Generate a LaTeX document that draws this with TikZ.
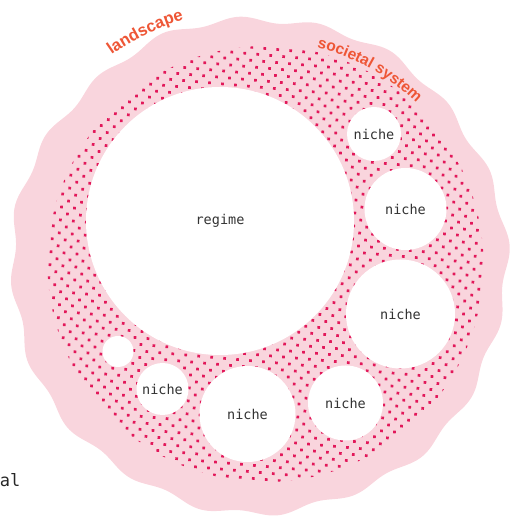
\documentclass[tikz,border=0pt]{standalone}
\usepackage{fontspec}
\setsansfont{Liberation Sans}
\setmonofont{DejaVu Sans Mono}
\usetikzlibrary{decorations.text}
\definecolor{landpink}{HTML}{F9D5DD}
\definecolor{dotred}{HTML}{E2185A}
\definecolor{labelred}{HTML}{EE5636}
\definecolor{nichetext}{HTML}{333333}

\begin{document}
\begin{tikzpicture}[x=1pt,y=1pt,
  hole/.style={circle, fill=white, inner sep=0pt, minimum size=#1, font=\ttfamily\fontsize{13.5}{16}\selectfont, text=nichetext}]
\useasboundingbox (0,0) rectangle (513,519);
% landscape blob
\fill[landpink] plot[domain=0:360, samples=721] ({259+(247+3*sin(20*\x)+1.5*sin(7*\x+40))*cos(\x)}, {253.5+(247+3*sin(20*\x)+1.5*sin(7*\x+40))*sin(\x)}) -- cycle;

% dotted societal system
\begin{scope}
\clip (265.5,255) circle (218);
\foreach \i in {-24,...,24}
  \foreach \j in {-24,...,24}
    \fill[dotred, shift={(265.5,255)}, rotate=40] (\i*9.2,\j*9.2) circle (1.9);
\end{scope}

\node[hole=268pt] (regime) at (220,298) {regime};
\node[hole=54pt] (niche1) at (374,385) {niche};
\node[hole=82pt] (niche2) at (405.5,310) {niche};
\node[hole=109pt] (niche3) at (400.5,205) {niche};
\node[hole=75pt] (niche4) at (345.5,116) {niche};
\node[hole=96pt] (niche5) at (247.5,105) {niche};
\node[hole=52pt] (niche6) at (162.5,130) {niche};
\node[hole=31pt] (spare) at (118,167.5) {};

\path[decorate, decoration={text along path, text align=center, text color=labelred,
  text={|\sffamily\bfseries\fontsize{16.5}{19}\selectfont|landscape}}]
  (259,253.5) ++(128:257) arc[start angle=128, end angle=104, radius=257];
\path[decorate, decoration={text along path, text align=center, text color=labelred,
  text={|\sffamily\bfseries\fontsize{15.5}{18}\selectfont|societal system}}]
  (259,253.5) ++(79:226) arc[start angle=79, end angle=42, radius=226];

\node[font=\ttfamily\fontsize{17}{20}\selectfont, anchor=base east, inner sep=0pt, text=black!85] (tail) at (20.5,32) {al};
\end{tikzpicture}
\end{document}
